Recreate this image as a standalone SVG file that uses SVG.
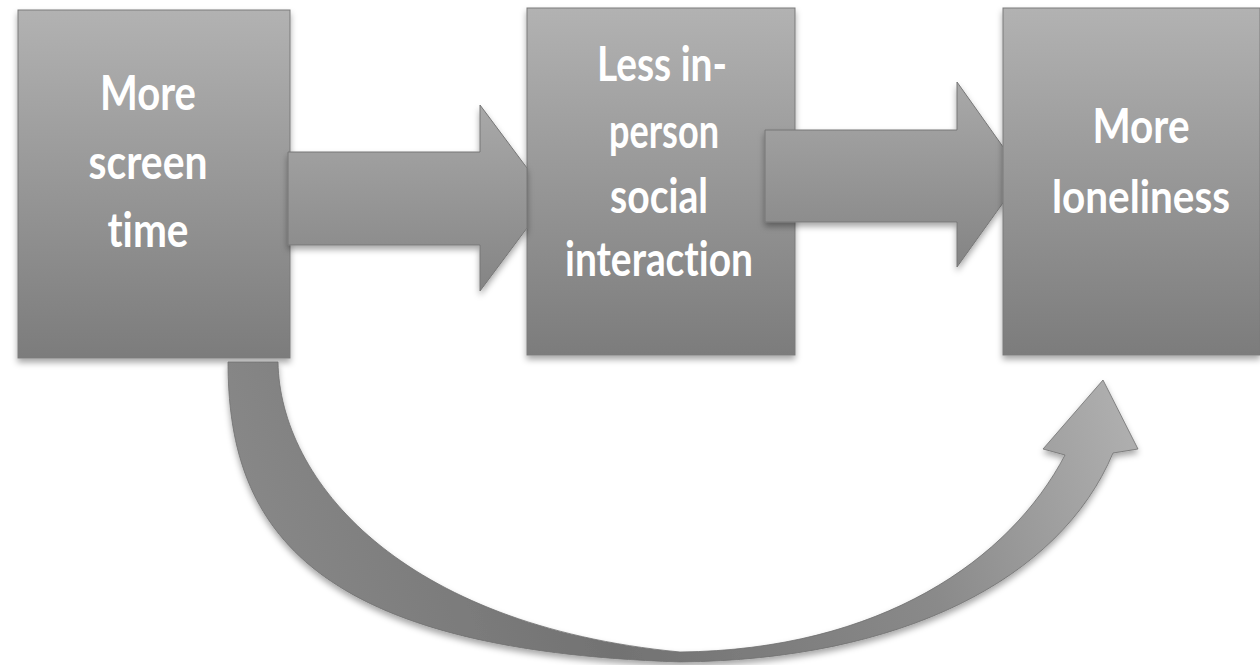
<svg xmlns="http://www.w3.org/2000/svg" width="1260" height="665" viewBox="0 0 1260 665">
  <defs>
    <linearGradient id="boxFill" x1="0" y1="0" x2="0" y2="1">
      <stop offset="0" stop-color="#b2b2b2"/>
      <stop offset="1" stop-color="#7c7c7c"/>
    </linearGradient>
    <linearGradient id="arrowFill" x1="0" y1="0" x2="0" y2="1">
      <stop offset="0" stop-color="#a9a9a9"/>
      <stop offset="1" stop-color="#848484"/>
    </linearGradient>
    <linearGradient id="curveFill" gradientUnits="userSpaceOnUse" x1="230" y1="660" x2="1110" y2="380">
      <stop offset="0" stop-color="#8c8c8c"/>
      <stop offset="0.4" stop-color="#727272"/>
      <stop offset="0.75" stop-color="#8a8a8a"/>
      <stop offset="1" stop-color="#aeaeae"/>
    </linearGradient>
    <filter id="shadow" x="-10%" y="-10%" width="120%" height="125%">
      <feDropShadow dx="0" dy="4" stdDeviation="3" flood-color="#000" flood-opacity="0.35"/>
    </filter>
  </defs>
  <style>
    .box { fill: url(#boxFill); stroke: #7a7a7a; stroke-width: 1; filter: url(#shadow); }
    .arrow { fill: url(#arrowFill); stroke: #777; stroke-width: 1; filter: url(#shadow); }
    .curve { fill: url(#curveFill); stroke: #707070; stroke-width: 0.8; filter: url(#shadow); }
    .label { fill: #ffffff; font-family: Lato, "Open Sans", "Liberation Sans", sans-serif; font-weight: bold; font-size: 48px; text-anchor: middle; font-variant-ligatures: none; font-feature-settings: "liga" 0, "clig" 0; }
    .narrow { font-size: 45px; }
  </style>

  <rect width="1260" height="665" fill="#ffffff"/>

  <g id="node-screen-time">
    <rect class="box" x="18" y="10" width="272" height="348"/>
    <text class="label" x="148" y="110" textLength="96" lengthAdjust="spacingAndGlyphs">More</text>
    <text class="label" x="148" y="179" textLength="119" lengthAdjust="spacingAndGlyphs">screen</text>
    <text class="label" x="148" y="247" textLength="81" lengthAdjust="spacingAndGlyphs">time</text>
  </g>

  <g id="node-social-interaction">
    <rect class="box" x="527" y="8" width="268" height="347"/>
    <text class="label" x="662" y="81" textLength="130" lengthAdjust="spacingAndGlyphs">Less in-</text>
    <text class="label" x="664" y="148" textLength="110" lengthAdjust="spacingAndGlyphs">person</text>
    <text class="label" x="659" y="213" textLength="98" lengthAdjust="spacingAndGlyphs">social</text>
    <text class="label" x="659" y="276" textLength="188" lengthAdjust="spacingAndGlyphs">interaction</text>
  </g>

  <g id="connectors">
    <!-- straight block arrow: screen time to social interaction -->
    <path class="arrow" d="M288 152 L480 152 L480 105 L527 168 L527 228 L480 291 L480 245 L288 245 Z"/>
    <!-- straight block arrow: social interaction to loneliness -->
    <path class="arrow" d="M765 130 L957 130 L957 82 L1023 175 L957 267 L957 222 L765 222 Z"/>
    <!-- curved arrow: screen time directly to loneliness -->
    <path class="curve" d="M278 362 C280 480, 400 625, 680 652 C880 650, 1010 560, 1065 455 L1043 449 L1103 380 L1138 449 L1113 453 C1060 580, 900 660, 680 662 C300 650, 228 520, 228 362 Z"/>
  </g>

  <g id="node-loneliness">
    <rect class="box" x="1003" y="8" width="257" height="347"/>
    <text class="label" x="1141" y="143" textLength="97" lengthAdjust="spacingAndGlyphs">More</text>
    <text class="label narrow" x="1141" y="213" textLength="178" lengthAdjust="spacingAndGlyphs">loneliness</text>
  </g>
</svg>
